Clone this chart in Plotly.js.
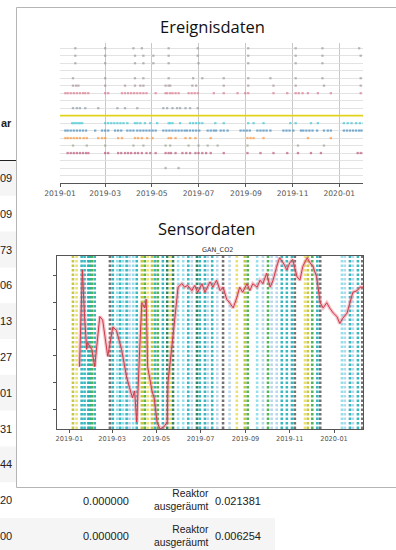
<!DOCTYPE html>
<html><head><meta charset="utf-8">
<script src="https://cdn.plot.ly/plotly-3.0.1.min.js"></script>
<style>html,body{margin:0;padding:0;background:#fff;overflow:hidden}#chart{width:396px;height:550px}</style>
</head><body><div id="chart"></div>
<script>
// ---------- DATA (day offsets from 2019-01-01) ----------
const evRow01 = [20,59,96,107,142,180,246,308,343,391];
const evRow02 = [20,59,98,109,122,142,180,246,308,343,393];
const evRow03 = [20,59,98,109,122,142,181,246,308,343];
const evRow05 = [17,59,98,109,142,174,186,214,246,275,308,343,393];
const evRow06 = [17,21,24,59,85,98,105,109,138,142,144,173,178,214,246,279,308,345,393];
const evRow07 = [7,10,14,18,22,26,30,33,37,59,63,81,85,89,93,97,101,105,109,113,125,138,140,144,147,151,155,168,172,176,180,201,214,232,242,246,279,297,308,312,317,324,337,354,393];
const evRow09 = [17,22,26,33,50,75,85,101,135,140,147,153,157,164,170,180];
const evRow10Span = [0,396];
const evRow11 = [16,18,21,24,26,29,59,63,67,71,75,79,83,88,98,101,105,111,118,127,142,144,147,157,170,174,178,182,186,203,214,246,253,266,301,308,328,337,371,376,381,387,392,397];
const evRow12 = [7,10,14,18,22,26,30,34,46,55,59,63,72,76,80,88,92,96,101,105,109,113,117,121,125,135,139,143,147,151,155,159,163,166,170,174,178,182,193,197,201,204,210,214,219,236,240,244,248,258,262,266,270,275,292,296,300,305,315,318,322,326,330,336,345,350,354,371,375,379,383,387,391,394];
const evRow13 = [7,10,14,18,22,26,31,35,50,55,59,76,81,98,102,107,114,121,142,145,151,164,170,177,197,245,249,253,266,324,354];
const evRow14 = [17,35,59,96,109,138,144,168,181,193,206,245,311,345];
const evRow15 = [10,14,18,22,26,30,34,37,59,63,76,80,85,89,93,98,102,107,113,118,125,138,142,145,151,160,165,170,177,181,186,191,197,214,245,262,279,297,311,328,341,389,393,397];
const evRow17 = [138,155];

const sensorName = 'GAN_CO2';
const sensorDays = [14,18,21,24,25,31,35,42,46,53,60,65,72,79,83,87,90,93,97,100,104,106,108,114,117,121,125,130,135,136,141,146,150,155,159,163,169,173,177,183,187,194,198,203,208,212,217,221,226,231,235,239,245,249,253,259,263,267,272,277,281,286,290,295,300,304,308,314,318,322,328,332,336,341,346,350,355,359,364,369,373,377,383,387,391,397,401,405];
const sensorVals = [36,92,65,46,50,46,36,65,63,42,59,57,46,30,24,18,22,4,46,73,70,75,36,22,18,4,0,1,4,27,46,65,82,84,82,83,80,83,79,84,79,85,82,86,80,82,75,73,70,76,82,79,84,80,84,82,86,84,90,82,86,94,99,96,92,96,98,88,86,94,99,96,94,88,73,70,73,70,67,65,61,64,67,73,79,80,82,82];

const markDays  = [5,10,17,21,26,28,31,35,56,60,66,70,74,79,83,88,93,100,104,108,114,118,122,129,135,139,143,150,157,164,169,176,180,187,191,197,204,212,221,231,242,246,259,267,274,279,286,293,300,307,311,325,329,335,342,346,376,380,387,391,398,404];
const markTypes = ['O','Y','T','T','T','T','G','T','K','T','C','T','C','T','L','C','T','O','G','Y','O','T','G','T','D','Y','D','C','C','T','L','D','T','T','L','T','L','K','L','Y','O','G','C','L','G','L','L','T','T','T','K','Y','O','G','T','K','C','L','T','L','T','K'];

const tableIdx = ['09','09','73','06','13','27','01','31','44','20','00'];
const tableHeader = 'ar';
const lastRowsA = ['0.000000','0.000000'];
const lastRowsB = ['Reaktor<br>ausgeräumt','Reaktor<br>ausgeräumt'];
const lastRowsC = ['0.021381','0.006254'];

// ---------- helpers ----------
const t0 = Date.UTC(2019,0,1);
const toDate = d => new Date(t0 + d*86400000).toISOString().slice(0,10);
const W = 396, H = 550;
const px = x => x / W, py = y => 1 - y / H;

// ---------- traces ----------
const rows = [
  {d: evRow01, y: 18, c: '#8a8a8a'},
  {d: evRow02, y: 17, c: '#8a8a8a'},
  {d: evRow03, y: 16, c: '#8a8a8a'},
  {d: evRow05, y: 14, c: '#8a8a8a'},
  {d: evRow06, y: 13, c: '#9a7f86'},
  {d: evRow07, y: 12, c: '#d9607a'},
  {d: evRow09, y: 10, c: '#7d8b99'},
  {d: evRow11, y: 8,  c: '#17becf'},
  {d: evRow12, y: 7,  c: '#1f77b4'},
  {d: evRow13, y: 6,  c: '#ff7f0e'},
  {d: evRow14, y: 5,  c: '#8c9a80'},
  {d: evRow15, y: 4,  c: '#b0305a'},
  {d: evRow17, y: 2,  c: '#8a8a8a'}
];
const traces = [];
traces.push({x: evRow10Span.map(toDate), y: [9,9], mode: 'lines', xaxis: 'x', yaxis: 'y',
  line: {color: '#e3d21a', width: 1.6}, hoverinfo: 'skip', showlegend: false});
rows.forEach(r => traces.push({
  x: r.d.map(toDate), y: r.d.map(() => r.y), mode: 'markers', xaxis: 'x', yaxis: 'y',
  marker: {symbol: 'square', size: 2.3, color: r.c, line: {width: 0}}, opacity: 0.55,
  showlegend: false, hoverinfo: 'skip'
}));
traces.push({x: sensorDays.map(toDate), y: sensorVals, mode: 'lines', xaxis: 'x2', yaxis: 'y2',
  line: {color: 'rgba(232,120,135,0.45)', width: 3.5}, showlegend: false, hoverinfo: 'skip'});
traces.push({x: sensorDays.map(toDate), y: sensorVals, mode: 'lines', xaxis: 'x2', yaxis: 'y2',
  line: {color: '#cf3b4a', width: 1}, showlegend: false, hoverinfo: 'skip'});

// ---------- shapes ----------
const typeColor = {T:'rgba(23,170,180,0.85)', C:'rgba(120,215,230,0.8)', G:'rgba(44,160,44,0.8)',
  D:'rgba(20,110,70,0.85)', O:'rgba(188,189,34,0.85)', Y:'rgba(230,220,90,0.85)',
  K:'rgba(80,80,80,0.8)', L:'rgba(160,200,230,0.75)'};
const shapes = [];
tableIdx.forEach((_, k) => {
  if (k % 2 === 0) {
    const y0 = 160 + k*35.8, y1 = y0 + 35.8;
    shapes.push({type:'rect', xref:'paper', yref:'paper', x0:px(0), x1:px(k===10?275:396),
      y0:py(y1), y1:py(y0), fillcolor:'#f5f5f5', line:{width:0}, layer:'below'});
  }
});
shapes.push({type:'line', xref:'paper', yref:'paper', x0:px(0), x1:px(16), y0:py(160.5), y1:py(160.5),
  line:{color:'#222', width:1}, layer:'below'});
shapes.push({type:'rect', xref:'paper', yref:'paper', x0:px(16.5), x1:px(430), y0:py(487.5), y1:py(7.5),
  fillcolor:'#ffffff', line:{color:'#b5b5b5', width:1}, layer:'below'});
markDays.forEach((d, i) => shapes.push({type:'line', xref:'x2', yref:'y2 domain',
  x0: toDate(d), x1: toDate(d), y0: 0, y1: 1,
  line: {color: typeColor[markTypes[i]], width: 2.6, dash: '2.5px,2px'}, layer: 'below'}));

// ---------- annotations ----------
const ann = [];
const tfont = {family: 'Liberation Sans, Arial, sans-serif', size: 11, color: '#222'};
function A(o) { ann.push(Object.assign({xref:'paper', yref:'paper', showarrow:false, yanchor:'middle', xanchor:'center', borderpad:0}, o)); }
A({text: 'Ereignisdaten', x: px(212), y: py(27), font:{family:'Open Sans, sans-serif', size:16.5, color:'#111'}});
A({text: 'Sensordaten', x: px(207), y: py(228), font:{family:'Open Sans, sans-serif', size:16.5, color:'#111'}});
A({text: sensorName, x: px(217), y: py(250), font:{family:'DejaVu Sans, sans-serif', size:6.5, color:'#333'}});
A({text: '<b>' + tableHeader + '</b>', x: px(13), y: py(123), xanchor:'right', font: tfont});
tableIdx.forEach((t, k) => A({text: t, x: px(13), y: py(178 + k*35.8), xanchor:'right', font: tfont}));
lastRowsA.forEach((t, k) => A({text: t, x: px(130), y: py(500.5 + k*35.8), xanchor:'right', font: tfont}));
lastRowsB.forEach((t, k) => A({text: t, x: px(210), y: py(500 + k*35.8), xanchor:'right', align:'right',
  font: {family: tfont.family, size: 10.3, color: '#222'}}));
lastRowsC.forEach((t, k) => A({text: t, x: px(214), y: py(500.5 + k*35.8), xanchor:'left', font: tfont}));

// ---------- layout ----------
const layout = {
  width: W, height: H, margin: {l:0, r:0, t:0, b:0},
  paper_bgcolor: '#ffffff', plot_bgcolor: 'rgba(0,0,0,0)', showlegend: false,
  xaxis: {domain: [px(60), px(363)], range: ['2019-01-01','2020-02-01'], type: 'date',
    dtick: 'M2', tick0: '2019-01-01', tickformat: '%Y-%m', showgrid: true, gridcolor: '#c8c8c8', gridwidth: 1,
    showline: true, linecolor: '#555', linewidth: 1.2, ticks: 'outside', ticklen: 3, tickcolor: '#555',
    tickfont: {family: 'DejaVu Sans, sans-serif', size: 7.6, color: '#555'}, zeroline: false, fixedrange: true},
  yaxis: {domain: [py(183), py(43)], range: [0, 18.7], tick0: 0, dtick: 1, showgrid: true,
    gridcolor: '#dcdcdc', gridwidth: 0.8, showticklabels: false, zeroline: false, showline: false, fixedrange: true},
  xaxis2: {domain: [px(57), px(363)], range: ['2018-12-15','2020-02-10'], type: 'date', anchor: 'y2',
    dtick: 'M2', tick0: '2019-01-01', tickformat: '%Y-%m', showgrid: false,
    showline: true, mirror: true, linecolor: '#555', linewidth: 1, ticks: 'outside', ticklen: 3, tickcolor: '#555',
    tickfont: {family: 'DejaVu Sans, sans-serif', size: 6.6, color: '#555'}, zeroline: false, fixedrange: true},
  yaxis2: {domain: [py(429), py(256)], range: [0, 100], anchor: 'x2', tick0: 11, dtick: 15.6,
    showgrid: false, showticklabels: false, ticks: 'outside', ticklen: 3, tickcolor: '#555',
    showline: true, mirror: true, linecolor: '#555', linewidth: 1, zeroline: false, fixedrange: true},
  shapes: shapes, annotations: ann
};
Plotly.newPlot('chart', traces, layout, {staticPlot: true, displayModeBar: false});
</script></body></html>
